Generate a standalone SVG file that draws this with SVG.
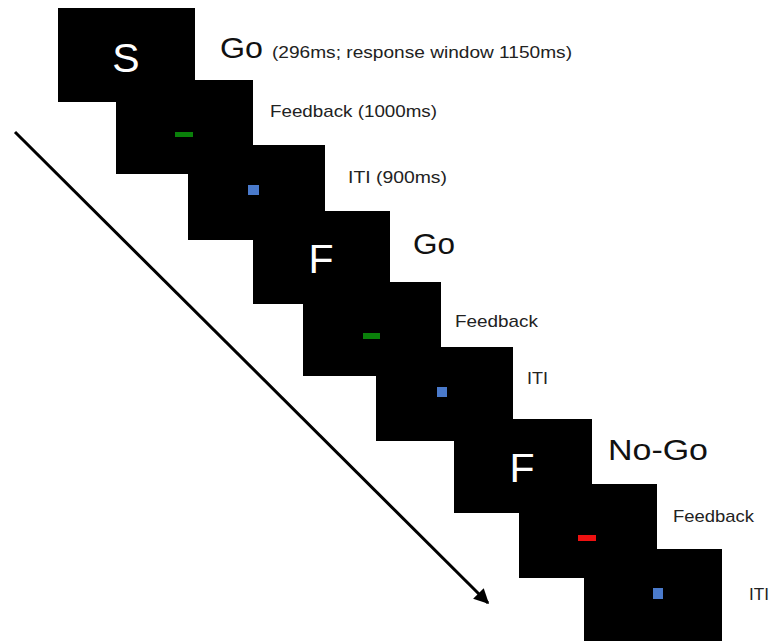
<svg xmlns="http://www.w3.org/2000/svg" width="772" height="641" viewBox="0 0 772 641">
  <defs>
    <style>
      .screen { fill: #000; }
      .stim { fill: #fff; font-family: "Liberation Sans", Arial, sans-serif; font-size: 41px; }
      .big { fill: #111; font-family: "Liberation Sans", Arial, sans-serif; font-size: 29px; }
      .small { fill: #222; font-family: "Liberation Sans", Arial, sans-serif; font-size: 17px; }
      .ok { fill: #0a800a; }
      .err { fill: #ee1111; }
      .fix { fill: #4a7acb; }
      .time { stroke: #000; stroke-width: 3; fill: none; }
    </style>
    <marker id="head" viewBox="0 0 10 10" refX="9" refY="5" markerWidth="5" markerHeight="5" orient="auto" markerUnits="strokeWidth">
      <path d="M0,0 L10,5 L0,10 Z" fill="#000"/>
    </marker>
  </defs>

  <!-- time axis -->
  <g id="connectors">
    <line class="time" x1="15" y1="132" x2="488" y2="603" marker-end="url(#head)"/>
  </g>

  <!-- trial 1: Go -->
  <g id="go1-stimulus">
    <rect class="screen" x="58" y="8" width="137" height="94"/>
    <text class="stim" x="126" y="72" text-anchor="middle">S</text>
    <text class="big" x="220" y="58" textLength="43" lengthAdjust="spacingAndGlyphs">Go</text>
    <text class="small" x="272" y="58" textLength="300" lengthAdjust="spacingAndGlyphs">(296ms; response window 1150ms)</text>
  </g>
  <g id="go1-feedback">
    <rect class="screen" x="116" y="80" width="137" height="94"/>
    <rect class="ok" x="175" y="132" width="18" height="5"/>
    <text class="small" x="270" y="117" textLength="167" lengthAdjust="spacingAndGlyphs">Feedback (1000ms)</text>
  </g>
  <g id="go1-iti">
    <rect class="screen" x="188" y="145" width="137" height="95"/>
    <rect class="fix" x="248" y="185" width="11" height="10"/>
    <text class="small" x="348" y="183" textLength="99" lengthAdjust="spacingAndGlyphs">ITI (900ms)</text>
  </g>

  <!-- trial 2: Go -->
  <g id="go2-stimulus">
    <rect class="screen" x="253" y="211" width="137" height="93"/>
    <text class="stim" x="321" y="273" text-anchor="middle">F</text>
    <text class="big" x="413" y="254" textLength="42" lengthAdjust="spacingAndGlyphs">Go</text>
  </g>
  <g id="go2-feedback">
    <rect class="screen" x="303" y="282" width="138" height="94"/>
    <rect class="ok" x="363" y="333" width="17" height="6"/>
    <text class="small" x="455" y="327" textLength="83" lengthAdjust="spacingAndGlyphs">Feedback</text>
  </g>
  <g id="go2-iti">
    <rect class="screen" x="376" y="347" width="137" height="94"/>
    <rect class="fix" x="437" y="387" width="10" height="10"/>
    <text class="small" x="527" y="384" textLength="21" lengthAdjust="spacingAndGlyphs">ITI</text>
  </g>

  <!-- trial 3: No-Go -->
  <g id="nogo-stimulus">
    <rect class="screen" x="454" y="419" width="138" height="94"/>
    <text class="stim" x="522" y="482" text-anchor="middle">F</text>
    <text class="big" x="608" y="460" textLength="100" lengthAdjust="spacingAndGlyphs">No-Go</text>
  </g>
  <g id="nogo-feedback">
    <rect class="screen" x="519" y="484" width="138" height="94"/>
    <rect class="err" x="578" y="535" width="18" height="6"/>
    <text class="small" x="673" y="522" textLength="81" lengthAdjust="spacingAndGlyphs">Feedback</text>
  </g>
  <g id="nogo-iti">
    <rect class="screen" x="584" y="549" width="138" height="94"/>
    <rect class="fix" x="653" y="588" width="10" height="11"/>
    <text class="small" x="749" y="600" textLength="20" lengthAdjust="spacingAndGlyphs">ITI</text>
  </g>
</svg>
